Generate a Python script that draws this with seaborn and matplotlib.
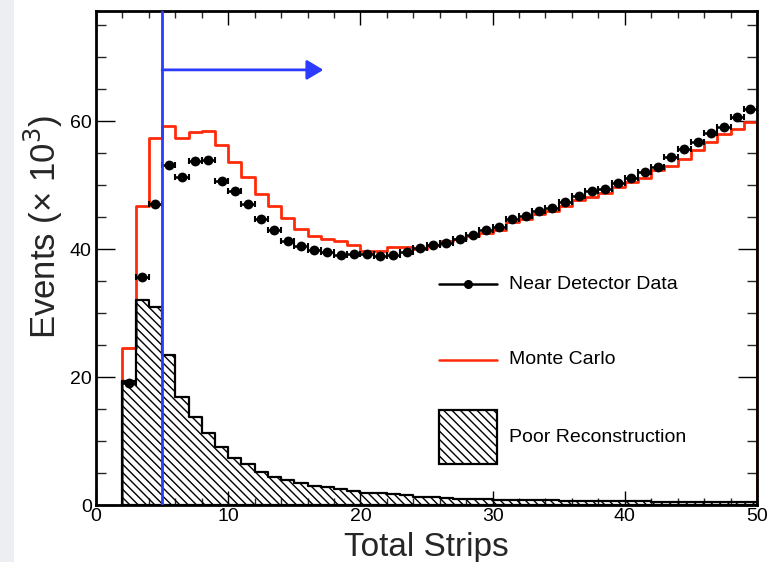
import numpy as np
import pandas as pd
import matplotlib
matplotlib.use("Agg")
import matplotlib.pyplot as plt
import seaborn as sns
from matplotlib.patches import Rectangle
from matplotlib.lines import Line2D

# Bin edges of the total-strips histograms (1 strip per bin, 2..50)
strip_edges = list(range(2, 51))

# Near detector data (x 10^3 events per bin)
data_counts = [19.1, 35.6, 47.1, 53.1, 51.3, 53.7, 53.9, 50.6, 49.0, 47.0,
               44.7, 42.9, 41.3, 40.4, 39.9, 39.5, 39.1, 39.3, 39.3, 38.9,
               39.1, 39.6, 40.1, 40.7, 41.0, 41.6, 42.2, 42.9, 43.4, 44.7,
               45.1, 46.0, 46.4, 47.3, 48.3, 49.0, 49.4, 50.3, 51.1, 52.0,
               52.8, 54.4, 55.7, 56.7, 58.2, 59.1, 60.6, 61.9]

# Monte Carlo prediction
mc_counts = [24.5, 46.8, 57.4, 59.2, 57.3, 58.3, 58.4, 56.2, 53.6, 51.3,
             48.6, 46.8, 44.9, 43.2, 42.1, 41.6, 41.2, 40.6, 39.7, 39.7,
             40.3, 40.3, 40.0, 40.6, 41.2, 41.5, 42.0, 42.5, 42.9, 44.3,
             44.7, 45.4, 45.9, 46.8, 47.6, 48.1, 48.8, 49.7, 50.5, 51.1,
             52.4, 52.9, 54.1, 55.4, 56.8, 57.9, 58.8, 59.9]

# Poorly reconstructed events
poor_counts = [19.4, 32.0, 31.0, 23.4, 16.9, 13.7, 11.3, 9.1, 7.3, 6.4,
               5.2, 4.4, 3.9, 3.4, 3.0, 2.8, 2.5, 2.2, 1.9, 1.8,
               1.7, 1.5, 1.3, 1.2, 1.1, 1.0, 0.95, 0.9, 0.85, 0.8,
               0.78, 0.75, 0.72, 0.7, 0.67, 0.65, 0.62, 0.6, 0.58, 0.56,
               0.54, 0.52, 0.5, 0.49, 0.48, 0.46, 0.45, 0.44]

strip_cut = 5
arrow_level = 68
arrow_end = 17.2

x_ticks = [0, 10, 20, 30, 40, 50]
y_ticks = [0, 20, 40, 60]

centers = np.array(strip_edges[:-1]) + 0.5
df = pd.DataFrame({"strips": centers, "data": data_counts,
                   "mc": mc_counts, "poor": poor_counts})

RED = "#ff2a0a"
BLUE = "#2b3bff"
HATCH = chr(92) * 4  # dense back-diagonal hatching

sns.set_theme(style="white")
plt.rcParams["font.family"] = ["Liberation Sans", "DejaVu Sans"]
plt.rcParams["hatch.linewidth"] = 1.0

fig = plt.figure(figsize=(7.75, 5.62), dpi=100)
fig.patch.set_facecolor("white")
fig.patches.append(Rectangle((0, 0), 14 / 775, 1, transform=fig.transFigure,
                             facecolor="#eceef2", edgecolor="none", zorder=0))
ax = fig.add_axes([96 / 775, 1 - 505 / 562, 661 / 775, 494 / 562])
ax.set_facecolor("white")

# Monte Carlo outline (closed step shape, no fill)
sns.histplot(data=df, x="strips", weights="mc", bins=strip_edges,
             element="step", fill=True, alpha=1, facecolor=(1, 1, 1, 0),
             edgecolor=RED, linewidth=2.0, ax=ax, zorder=2)

# Poor reconstruction, hatched
sns.histplot(data=df, x="strips", weights="poor", bins=strip_edges,
             element="step", fill=True, alpha=1, facecolor=(1, 1, 1, 0),
             edgecolor="black", hatch=HATCH, linewidth=1.6, ax=ax, zorder=3)

# Data points with bin-width error bars
ax.errorbar(df["strips"], df["data"], xerr=0.5, yerr=0.3, fmt="none",
            ecolor="black", elinewidth=1.8, capsize=2.0, capthick=1.5,
            zorder=4)
sns.scatterplot(data=df, x="strips", y="data", color="black", s=50,
                edgecolor="black", linewidth=0, ax=ax, zorder=5)

# Strip cut and selected region
ax.axvline(strip_cut, color=BLUE, lw=2.0, zorder=6)
ax.annotate("", xy=(arrow_end, arrow_level), xytext=(strip_cut, arrow_level),
            arrowprops=dict(arrowstyle="-|>,head_length=0.5,head_width=0.3",
                            color=BLUE, lw=2.0, mutation_scale=20,
                            shrinkA=0, shrinkB=0), zorder=6)

ax.set_xlim(0, 50)
ax.set_ylim(0, 77.2)
ax.set_xticks(x_ticks)
ax.set_xticklabels([str(t) for t in x_ticks])
ax.set_yticks(y_ticks)
ax.set_yticklabels([str(t) for t in y_ticks])
ax.set_xticks(np.arange(0, 51, 2), minor=True)
ax.set_yticks(np.arange(0, 78, 5), minor=True)

ax.tick_params(axis="x", which="major", direction="in", length=10, width=1.0,
               top=True, bottom=True, labelsize=14, pad=2, colors="black")
ax.tick_params(axis="x", which="minor", direction="in", length=5, width=1.0,
               top=True, bottom=True)
ax.tick_params(axis="y", which="major", direction="in", length=14, width=1.0,
               left=True, right=True, labelsize=14, pad=3, colors="black")
ax.tick_params(axis="y", which="minor", direction="in", length=7, width=1.0,
               left=True, right=True)
for s in ax.spines.values():
    s.set_linewidth(2.0)
    s.set_color("black")
    s.set_visible(True)

ax.set_xlabel("Total Strips", fontsize=24, labelpad=0)
ax.xaxis.set_label_coords(0.5, -0.087)
ax.xaxis.label.set_va("center")
ax.set_ylabel("Events (× 10$^{3}$)", fontsize=25, va="center")
ax.yaxis.set_label_coords(-0.080, 0.563)

# Legend drawn in axes coordinates
lx0, lx1, tx = 0.519, 0.607, 0.625
ax.add_line(Line2D([lx0, lx1], [0.447, 0.447], color="black", lw=1.8,
                   transform=ax.transAxes, zorder=7))
ax.add_line(Line2D([(lx0 + lx1) / 2], [0.447], color="black", marker="o",
                   markersize=5.5, transform=ax.transAxes, zorder=7))
ax.add_line(Line2D([lx0, lx1], [0.294, 0.294], color=RED, lw=1.8,
                   transform=ax.transAxes, zorder=7))
ax.add_patch(Rectangle((lx0, 0.083), lx1 - lx0, 0.109, transform=ax.transAxes,
                       facecolor="white", edgecolor="black", hatch=HATCH,
                       lw=1.6, zorder=7))
for y, label in [(0.447, "Near Detector Data"), (0.294, "Monte Carlo"),
                 (0.136, "Poor Reconstruction")]:
    ax.text(tx, y, label, transform=ax.transAxes, fontsize=14,
            va="center", ha="left", color="black", zorder=7)

fig.savefig("out.png", dpi=100)
